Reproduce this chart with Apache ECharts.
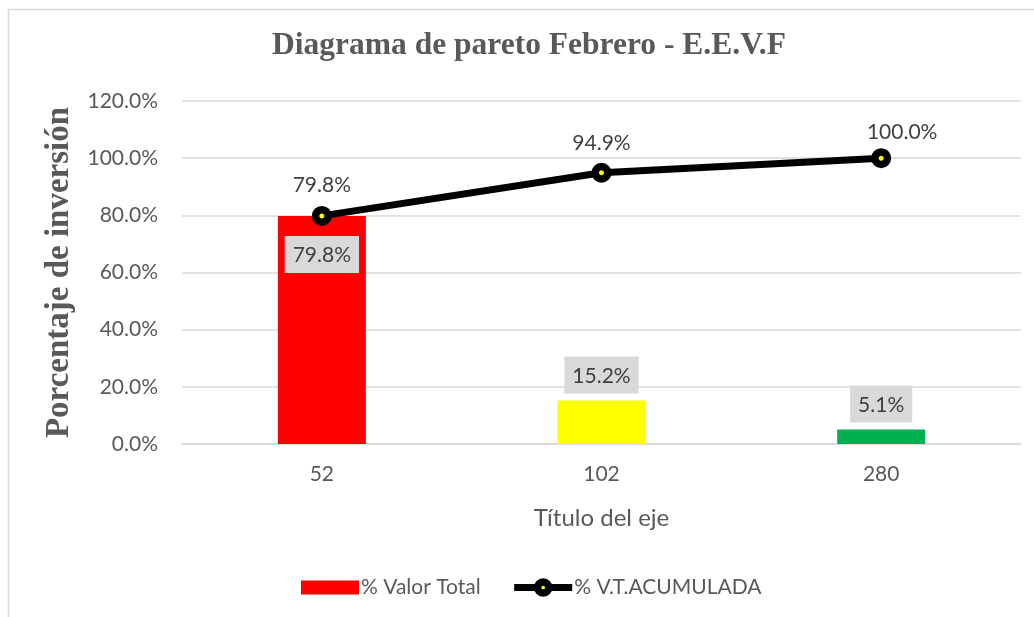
<!DOCTYPE html>
<html>
<head>
<meta charset="utf-8">
<script src="https://cdn.jsdelivr.net/npm/echarts@6/dist/echarts.min.js"></script>
<style>html,body{margin:0;padding:0;background:#fff;}#c{width:1034px;height:617px;}</style>
</head>
<body>
<div id="c"></div>
<script>
const categories = ['52', '102', '280'];
const valorTotal = [79.8, 15.2, 5.1];
const acumulada = [79.8, 94.9, 100.0];
const barColors = ['#ff0000', '#ffff00', '#00b050'];
const yTicks = [0, 20, 40, 60, 80, 100, 120];

const chart = echarts.init(document.getElementById('c'), null, {renderer: 'canvas'});
const sans = 'Lato, "Noto Sans", sans-serif';
const serif = '"Liberation Serif", "DejaVu Serif", serif';
const fmt = v => Number(v).toFixed(1) + '%';
const lineLabelStyle = [
  {distance: 10, offset: [0, 0]},
  {distance: 9, offset: [0, 0]},
  {distance: 5, offset: [21, 0]}
];

chart.setOption({
  animation: false,
  backgroundColor: '#fff',
  graphic: [{
    type: 'rect', shape: {x: 8.5, y: 9.5, width: 1040, height: 620},
    style: {fill: 'none', stroke: '#d9d9d9', lineWidth: 1.5}, silent: true
  }],
  title: {
    text: 'Diagrama de pareto Febrero - E.E.V.F',
    left: 524, top: 25, textAlign: 'center',
    textStyle: {fontFamily: serif, fontWeight: 'bold', fontSize: 31.5, color: '#595959'}
  },
  grid: {left: 182, right: 13, top: 101, bottom: 173},
  legend: {
    left: 296, top: 572, itemWidth: 58, itemHeight: 14, itemGap: 30,
    textStyle: {fontFamily: sans, fontSize: 21, color: '#595959', padding: [0, 0, 0, -3]},
    data: [
      {name: '% Valor Total', icon: 'rect', itemStyle: {color: '#ff0000'}},
      {name: '% V.T.ACUMULADA',
       lineStyle: {color: '#000', width: 7},
       itemStyle: {color: '#ffff00', borderColor: '#000', borderWidth: 7.5}}
    ]
  },
  xAxis: {
    type: 'category', data: categories,
    axisLine: {lineStyle: {color: '#d9d9d9', width: 1.5}},
    axisTick: {show: false},
    axisLabel: {fontFamily: sans, fontSize: 21, color: '#595959', margin: 20},
    name: 'Título del eje', nameLocation: 'middle', nameGap: 62,
    nameTextStyle: {fontFamily: sans, fontSize: 24, color: '#595959'}
  },
  yAxis: {
    type: 'value', min: 0, max: 120, interval: 20,
    axisLine: {show: false}, axisTick: {show: false},
    splitLine: {lineStyle: {color: '#d9d9d9', width: 1.5}},
    axisLabel: {fontFamily: sans, fontSize: 21, color: '#595959', margin: 24, formatter: fmt},
    name: 'Porcentaje de inversión', nameLocation: 'middle', nameGap: 106,
    nameTextStyle: {fontFamily: serif, fontWeight: 'bold', fontSize: 33, color: '#595959'}
  },
  series: [
    {
      name: '% Valor Total', type: 'bar', barWidth: 88,
      itemStyle: {color: '#ff0000'},
      data: valorTotal.map((v, i) => ({
        value: v,
        itemStyle: {color: barColors[i]},
        label: i === 0 ? {position: 'insideTop', distance: 20} : {position: 'top', distance: 7}
      })),
      label: {
        show: true, formatter: p => fmt(p.value),
        fontFamily: sans, fontSize: 21, color: '#404040',
        backgroundColor: '#d9d9d9', padding: [9, 8, 7, 8]
      },
      z: 2
    },
    {
      name: '% V.T.ACUMULADA', type: 'line',
      data: acumulada.map((v, i) => ({value: v, label: lineLabelStyle[i]})),
      lineStyle: {color: '#000', width: 7},
      symbol: 'circle', symbolSize: 12.5,
      itemStyle: {color: '#ffff00', borderColor: '#000', borderWidth: 7.5},
      label: {
        show: true, position: 'top', formatter: p => fmt(p.value),
        fontFamily: sans, fontSize: 21, color: '#404040'
      },
      z: 5
    }
  ]
});
</script>
</body>
</html>
